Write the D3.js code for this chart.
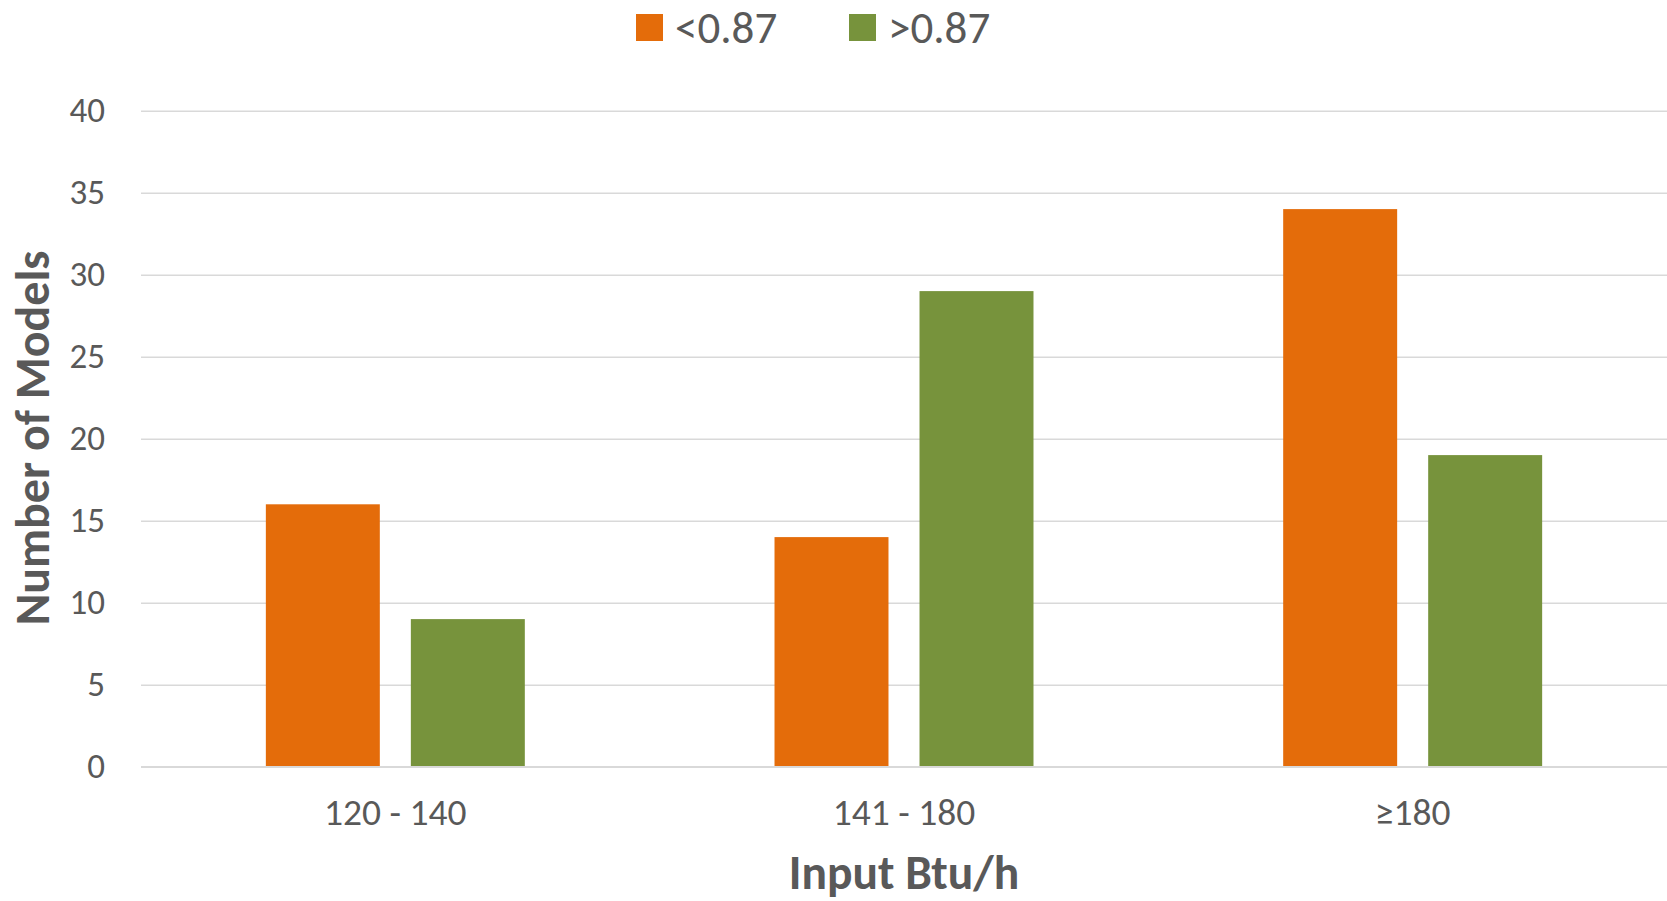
<!DOCTYPE html>
<html lang="en">
<head>
    <meta charset="UTF-8">
    <title>Number of Models by Input Btu/h</title>
    <script src="https://d3js.org/d3.v7.min.js"></script>
    <style>
        html, body { margin: 0; padding: 0; background: #fff; }
        text { font-family: Carlito, Lato, "Open Sans", sans-serif; fill: #595959; }
    </style>
</head>
<body>
    <div id="chart"></div>

    <script>
        // data
        const categories = ["120 - 140", "141 - 180", "\u2265180"];
        const seriesNames = ["<0.87", ">0.87"];
        const below = [16, 14, 34];
        const above = [9, 29, 19];
        const yTicks = [0, 5, 10, 15, 20, 25, 30, 35, 40];
        const colors = ["#E46C0A", "#77933C"];

        const width = 1667;
        const height = 901;
        const margin = { top: 110.7, right: 0, bottom: 134.3, left: 141 };

        const svg = d3.select("#chart")
            .append("svg")
            .attr("width", width)
            .attr("height", height);

        const x0 = d3.scaleBand()
            .domain(categories)
            .range([margin.left, width - margin.right])
            .padding(0);

        const x1 = d3.scaleBand()
            .domain(seriesNames)
            .range([0, x0.bandwidth()])
            .paddingInner(0.214)
            .paddingOuter(0.861);

        const y = d3.scaleLinear()
            .domain([0, 40])
            .range([height - margin.bottom, margin.top]);

        // gridlines + y labels
        const yAxis = svg.append("g")
            .attr("transform", `translate(${margin.left},0)`)
            .call(d3.axisLeft(y).tickValues(yTicks).tickSize(-(width - margin.left - margin.right)).tickPadding(36));
        yAxis.select(".domain").remove();
        yAxis.selectAll(".tick line").attr("stroke", "#d9d9d9").attr("stroke-width", 1.6);
        yAxis.selectAll(".tick text")
            .attr("font-size", 35)
            .attr("fill", "#595959")
            .attr("font-family", "Carlito, Lato, sans-serif");

        // bars
        const rows = categories.map((c, i) => ({ cat: c, values: [below[i], above[i]] }));
        svg.append("g")
            .selectAll("g")
            .data(rows)
            .join("g")
            .attr("transform", d => `translate(${x0(d.cat)},0)`)
            .selectAll("rect")
            .data(d => d.values.map((v, j) => ({ name: seriesNames[j], value: v, j })))
            .join("rect")
            .attr("x", d => x1(d.name))
            .attr("y", d => y(d.value))
            .attr("width", x1.bandwidth())
            .attr("height", d => y(0) - y(d.value))
            .attr("fill", d => colors[d.j]);

        // x axis labels
        const xAxis = svg.append("g")
            .attr("transform", `translate(0,${height - margin.bottom})`)
            .call(d3.axisBottom(x0).tickSize(0));
        xAxis.select(".domain").remove();
        xAxis.selectAll(".tick text")
            .attr("y", 58)
            .attr("dy", 0)
            .attr("font-size", 37.5)
            .attr("fill", "#595959")
            .attr("font-family", "Carlito, Lato, sans-serif");

        // baseline over bars
        svg.append("line")
            .attr("x1", margin.left).attr("x2", width - margin.right)
            .attr("y1", y(0)).attr("y2", y(0))
            .attr("stroke", "#d9d9d9").attr("stroke-width", 1.6);

        // axis titles
        svg.append("text")
            .attr("x", (margin.left + width - margin.right) / 2)
            .attr("y", 889)
            .attr("text-anchor", "middle")
            .attr("font-size", 47.5)
            .attr("font-weight", "bold")
            .text("Input Btu/h");

        svg.append("text")
            .attr("transform", "translate(49,438) rotate(-90)")
            .attr("text-anchor", "middle")
            .attr("font-size", 48)
            .attr("font-weight", "bold")
            .text("Number of Models");

        // legend
        const legendX = [636, 849];
        const legend = svg.append("g")
            .selectAll("g")
            .data(seriesNames)
            .join("g")
            .attr("transform", (d, i) => `translate(${legendX[i]},14)`);
        legend.append("rect")
            .attr("width", 27).attr("height", 27)
            .attr("fill", (d, i) => colors[i]);
        legend.append("text")
            .attr("x", 39).attr("y", 28.5)
            .attr("font-size", 45)
            .text(d => d);
    </script>
</body>
</html>
